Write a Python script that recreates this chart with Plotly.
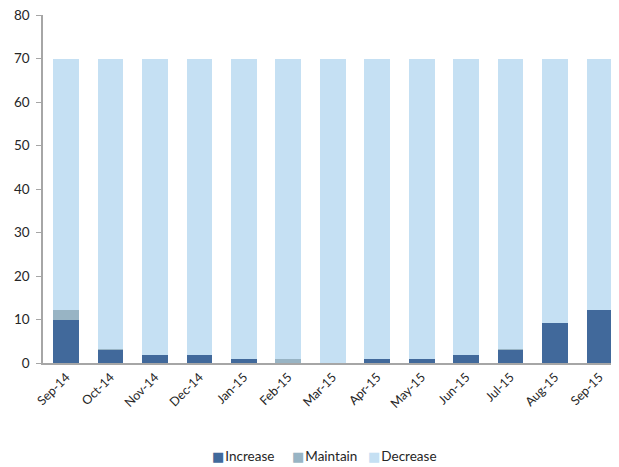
import plotly.graph_objects as go

categories = ["Sep-14", "Oct-14", "Nov-14", "Dec-14", "Jan-15", "Feb-15", "Mar-15",
              "Apr-15", "May-15", "Jun-15", "Jul-15", "Aug-15", "Sep-15"]
increase = [10, 3.1, 1.9, 1.9, 1, 0, 0, 1, 1, 1.9, 3.1, 9.1, 12.2]
maintain = [2.2, 0.1, 0, 0, 0, 1, 0, 0, 0, 0, 0.1, 0, 0]
total = 70
decrease = [round(total - a - b, 2) for a, b in zip(increase, maintain)]

series_names = ["Increase", "Maintain", "Decrease"]
colors = {"Increase": "#41699b", "Maintain": "#98b4c4", "Decrease": "#c5e0f3"}

fig = go.Figure()
for name, vals in zip(series_names, [increase, maintain, decrease]):
    fig.add_trace(go.Bar(
        x=categories, y=vals, name=name,
        marker=dict(color=colors[name], line=dict(width=0)),
        hoverinfo="x+y+name",
    ))

# compact legend drawn as annotations (Excel-like small square markers)
legend_x = [0.290, 0.428, 0.560]
for name, lx in zip(series_names, legend_x):
    fig.add_annotation(
        xref="paper", yref="paper", x=lx, y=-0.267, xanchor="left", yanchor="middle",
        text=(f"<span style='color:{colors[name]};font-size:13px;font-family:DejaVu Sans'>■</span>"
              f"<span style='font-size:4px'> </span>{name}"),
        showarrow=False, font=dict(size=13.5, color="#262626"),
    )

fig.update_layout(
    barmode="stack",
    bargap=0.42,
    width=619, height=467,
    margin=dict(l=35, r=8, t=7, b=112),
    paper_bgcolor="white", plot_bgcolor="white",
    font=dict(family="Lato, 'Open Sans', sans-serif", size=12, color="#262626"),
    showlegend=False,
)
fig.update_xaxes(
    type="category", range=[-0.52, 12.44],
    tickangle=-45, showline=True, linecolor="#a6a6a6", linewidth=2,
    ticks="", showgrid=False, tickfont=dict(size=12.5), automargin=False,
    ticklabeloverflow="allow",
)
fig.update_yaxes(
    range=[0, 80], dtick=10, showline=True, linecolor="#a6a6a6", linewidth=1.5,
    ticks="outside", ticklen=5, tickcolor="#a6a6a6", showgrid=False,
    tickfont=dict(size=13.5), zeroline=False, automargin=False,
    ticklabeloverflow="allow", ticklabelstandoff=4,
)

fig.write_html("out.html")
